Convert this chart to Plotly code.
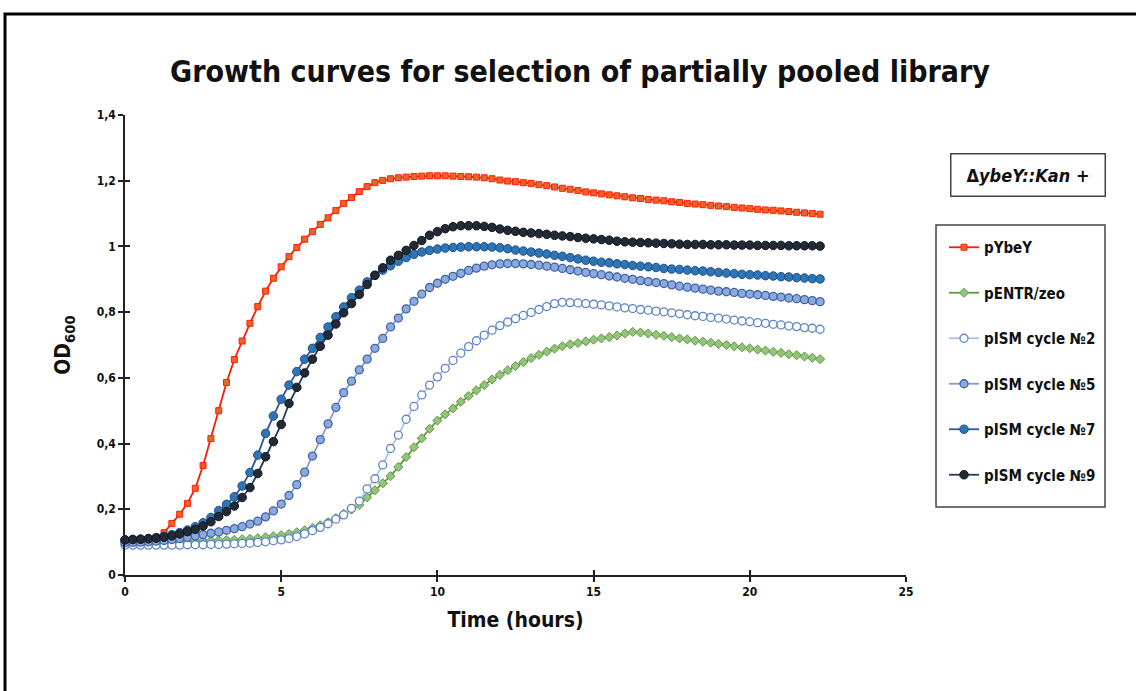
import plotly.graph_objects as go

# ---------------- data ----------------
time_hours = [
    0, 0.25, 0.5, 0.75, 1, 1.25, 1.5, 1.75, 2, 2.25,
    2.5, 2.75, 3, 3.25, 3.5, 3.75, 4, 4.25, 4.5, 4.75,
    5, 5.25, 5.5, 5.75, 6, 6.25, 6.5, 6.75, 7, 7.25,
    7.5, 7.75, 8, 8.25, 8.5, 8.75, 9, 9.25, 9.5, 9.75,
    10, 10.25, 10.5, 10.75, 11, 11.25, 11.5, 11.75, 12, 12.25,
    12.5, 12.75, 13, 13.25, 13.5, 13.75, 14, 14.25, 14.5, 14.75,
    15, 15.25, 15.5, 15.75, 16, 16.25, 16.5, 16.75, 17, 17.25,
    17.5, 17.75, 18, 18.25, 18.5, 18.75, 19, 19.25, 19.5, 19.75,
    20, 20.25, 20.5, 20.75, 21, 21.25, 21.5, 21.75, 22, 22.25,
]

pYbeY = [
    0.105, 0.106, 0.107, 0.109, 0.115, 0.129, 0.157, 0.185, 0.218, 0.264,
    0.333, 0.415, 0.500, 0.586, 0.656, 0.712, 0.766, 0.817, 0.864, 0.903,
    0.938, 0.969, 0.997, 1.022, 1.045, 1.067, 1.087, 1.109, 1.131, 1.149,
    1.167, 1.182, 1.194, 1.201, 1.206, 1.209, 1.211, 1.213, 1.214, 1.215,
    1.215, 1.215, 1.214, 1.213, 1.212, 1.211, 1.209, 1.206, 1.202, 1.199,
    1.197, 1.194, 1.192, 1.188, 1.185, 1.181, 1.177, 1.174, 1.170, 1.166,
    1.163, 1.160, 1.157, 1.154, 1.151, 1.148, 1.146, 1.143, 1.141, 1.139,
    1.136, 1.134, 1.131, 1.129, 1.127, 1.125, 1.123, 1.121, 1.119, 1.117,
    1.115, 1.113, 1.111, 1.110, 1.108, 1.106, 1.104, 1.102, 1.100, 1.098,
]

pENTR_zeo = [
    0.100, 0.100, 0.100, 0.101, 0.101, 0.101, 0.102, 0.102, 0.103, 0.103,
    0.104, 0.105, 0.106, 0.106, 0.107, 0.109, 0.110, 0.112, 0.115, 0.118,
    0.121, 0.125, 0.130, 0.136, 0.143, 0.151, 0.161, 0.173, 0.186, 0.199,
    0.213, 0.236, 0.258, 0.279, 0.301, 0.329, 0.359, 0.389, 0.416, 0.445,
    0.470, 0.489, 0.507, 0.527, 0.545, 0.562, 0.578, 0.595, 0.609, 0.623,
    0.636, 0.648, 0.660, 0.670, 0.680, 0.689, 0.696, 0.702, 0.706, 0.711,
    0.716, 0.720, 0.724, 0.729, 0.735, 0.740, 0.738, 0.735, 0.731, 0.728,
    0.724, 0.720, 0.717, 0.713, 0.710, 0.707, 0.703, 0.700, 0.696, 0.693,
    0.690, 0.686, 0.683, 0.679, 0.676, 0.672, 0.669, 0.665, 0.661, 0.657,
]

cycle2 = [
    0.091, 0.091, 0.091, 0.091, 0.091, 0.091, 0.091, 0.091, 0.092, 0.092,
    0.092, 0.093, 0.093, 0.094, 0.095, 0.096, 0.097, 0.099, 0.101, 0.104,
    0.107, 0.111, 0.117, 0.125, 0.135, 0.145, 0.156, 0.170, 0.183, 0.203,
    0.225, 0.262, 0.293, 0.335, 0.385, 0.426, 0.474, 0.513, 0.548, 0.578,
    0.603, 0.629, 0.653, 0.675, 0.695, 0.713, 0.730, 0.745, 0.759, 0.770,
    0.780, 0.790, 0.799, 0.808, 0.817, 0.826, 0.830, 0.829, 0.828, 0.826,
    0.824, 0.822, 0.819, 0.816, 0.813, 0.811, 0.808, 0.806, 0.803, 0.801,
    0.798, 0.795, 0.792, 0.789, 0.787, 0.784, 0.782, 0.779, 0.776, 0.773,
    0.771, 0.768, 0.766, 0.763, 0.761, 0.758, 0.756, 0.753, 0.751, 0.748,
]

cycle5 = [
    0.098, 0.099, 0.100, 0.101, 0.103, 0.105, 0.108, 0.111, 0.115, 0.119,
    0.123, 0.127, 0.131, 0.136, 0.141, 0.147, 0.155, 0.164, 0.177, 0.195,
    0.216, 0.242, 0.275, 0.313, 0.362, 0.412, 0.460, 0.510, 0.555, 0.590,
    0.624, 0.657, 0.690, 0.720, 0.755, 0.782, 0.810, 0.833, 0.855, 0.875,
    0.888, 0.900, 0.909, 0.918, 0.927, 0.934, 0.940, 0.944, 0.947, 0.948,
    0.948, 0.947, 0.945, 0.943, 0.940, 0.937, 0.933, 0.929, 0.925, 0.921,
    0.917, 0.914, 0.910, 0.907, 0.903, 0.900, 0.896, 0.893, 0.890, 0.887,
    0.883, 0.879, 0.876, 0.873, 0.870, 0.867, 0.864, 0.862, 0.860, 0.857,
    0.855, 0.853, 0.851, 0.848, 0.846, 0.843, 0.841, 0.838, 0.835, 0.832,
]

cycle7 = [
    0.107, 0.108, 0.109, 0.111, 0.114, 0.118, 0.123, 0.129, 0.137, 0.147,
    0.159, 0.175, 0.196, 0.215, 0.238, 0.271, 0.312, 0.365, 0.431, 0.484,
    0.535, 0.578, 0.619, 0.657, 0.690, 0.723, 0.755, 0.786, 0.816, 0.844,
    0.867, 0.892, 0.912, 0.928, 0.941, 0.955, 0.966, 0.976, 0.983, 0.988,
    0.992, 0.995, 0.997, 0.998, 0.999, 0.999, 0.999, 0.998, 0.996, 0.993,
    0.989, 0.986, 0.983, 0.980, 0.977, 0.973, 0.970, 0.966, 0.962, 0.958,
    0.955, 0.952, 0.950, 0.947, 0.945, 0.942, 0.940, 0.938, 0.936, 0.933,
    0.931, 0.930, 0.928, 0.926, 0.925, 0.923, 0.921, 0.919, 0.917, 0.915,
    0.914, 0.913, 0.911, 0.910, 0.908, 0.907, 0.905, 0.904, 0.902, 0.901,
]

cycle9 = [
    0.107, 0.108, 0.109, 0.110, 0.112, 0.115, 0.119, 0.125, 0.132, 0.139,
    0.149, 0.162, 0.178, 0.193, 0.210, 0.236, 0.266, 0.309, 0.360, 0.406,
    0.458, 0.522, 0.571, 0.615, 0.657, 0.696, 0.730, 0.764, 0.798, 0.826,
    0.854, 0.884, 0.912, 0.935, 0.958, 0.973, 0.988, 1.003, 1.018, 1.034,
    1.045, 1.054, 1.060, 1.063, 1.063, 1.063, 1.061, 1.058, 1.053, 1.049,
    1.046, 1.043, 1.041, 1.039, 1.037, 1.034, 1.032, 1.030, 1.027, 1.025,
    1.023, 1.021, 1.019, 1.016, 1.014, 1.013, 1.012, 1.011, 1.010, 1.009,
    1.008, 1.007, 1.006, 1.006, 1.006, 1.005, 1.005, 1.005, 1.004, 1.004,
    1.004, 1.003, 1.003, 1.003, 1.003, 1.002, 1.002, 1.002, 1.002, 1.001,
]

x_tick_vals = [0, 5, 10, 15, 20, 25]
x_tick_text = ["0", "5", "10", "15", "20", "25"]
y_tick_vals = [0, 0.2, 0.4, 0.6, 0.8, 1.0, 1.2, 1.4]
y_tick_text = ["0", "0,2", "0,4", "0,6", "0,8", "1", "1,2", "1,4"]

series_names = ["pYbeY", "pENTR/zeo", "pISM cycle №2", "pISM cycle №5",
                "pISM cycle №7", "pISM cycle №9"]
series_values = [pYbeY, pENTR_zeo, cycle2, cycle5, cycle7, cycle9]

# ---------------- styles ----------------
FONT = "DejaVu Sans Condensed, Liberation Sans Narrow, Roboto, sans-serif"
styles = [
    dict(line="#FF1A00", symbol="square", size=6, fill="#E8642A", edge="#FF2000", ew=1),
    dict(line="#5E9A3A", symbol="diamond", size=7, fill="#93C47D", edge="#5E9A3A", ew=1),
    dict(line="#A9C3EA", symbol="circle", size=8, fill="#FFFFFF", edge="#5B85C8", ew=1.3),
    dict(line="#7E9FD6", symbol="circle", size=8, fill="#8EAADC", edge="#3D64A8", ew=1.3),
    dict(line="#2F5597", symbol="circle", size=8.5, fill="#2E75B6", edge="#1F4E89", ew=1),
    dict(line="#1F3864", symbol="circle", size=8.5, fill="#222A35", edge="#111820", ew=1),
]

PL, PT, PW, PH = 125, 115, 781, 460   # plot area in pixels


def px_x(px):
    return (px - PL) / PW


def px_y(py):
    return (PT + PH - py) / PH


fig = go.Figure()
for i, (name, vals, st) in enumerate(zip(series_names, series_values, styles)):
    fig.add_trace(go.Scatter(
        x=time_hours, y=vals, name=name, mode="lines+markers",
        legendgroup=f"g{i}",
        line=dict(color=st["line"], width=1.8),
        marker=dict(symbol=st["symbol"], size=st["size"], color=st["fill"],
                    line=dict(color=st["edge"], width=st["ew"])),
        cliponaxis=False,
    ))

axis_font = dict(family=FONT, size=12, color="#111111", weight="bold")

fig.update_layout(
    width=1136, height=691,
    margin=dict(l=PL, r=1136 - PL - PW, t=PT, b=691 - PT - PH),
    paper_bgcolor="white", plot_bgcolor="white",
    font=dict(family=FONT, color="#111111"),
    title=dict(
        text="Growth curves for selection of partially pooled library",
        font=dict(family=FONT, size=30, color="#111111", weight="bold"),
        x=580 / 1136, xref="container", xanchor="center",
        y=1 - 71 / 691, yref="container", yanchor="middle",
    ),
    xaxis=dict(
        range=[0, 25], tickvals=x_tick_vals, ticktext=x_tick_text,
        showgrid=False, zeroline=False, showline=True, linecolor="#222222",
        linewidth=1.5, ticks="outside", ticklen=5, tickwidth=1.5,
        tickcolor="#222222", tickfont=axis_font,
        title=dict(text="Time (hours)", standoff=14,
                   font=dict(family=FONT, size=21, color="#111111", weight="bold")),
    ),
    yaxis=dict(
        range=[0, 1.4], tickvals=y_tick_vals, ticktext=y_tick_text,
        showgrid=False, zeroline=False, showline=True, linecolor="#222222",
        linewidth=1.5, ticks="outside", ticklen=5, tickwidth=1.5,
        tickcolor="#222222", tickfont=axis_font,
        title=dict(text="OD<sub>600</sub>", standoff=20,
                   font=dict(family=FONT, size=21, color="#111111", weight="bold")),
    ),
    xaxis2=dict(range=[0, 25], overlaying="x", tickvals=x_tick_vals,
                showticklabels=False, ticks="inside", ticklen=5, tickwidth=1.5,
                tickcolor="#222222", showgrid=False, zeroline=False, showline=False),
    yaxis2=dict(range=[0, 1.4], overlaying="y", tickvals=y_tick_vals,
                showticklabels=False, ticks="inside", ticklen=5, tickwidth=1.5,
                tickcolor="#222222", showgrid=False, zeroline=False, showline=False),
    legend=dict(
        x=px_x(944), y=px_y(231), xanchor="left", yanchor="top",
        borderwidth=0, bgcolor="rgba(0,0,0,0)",
        font=dict(family=FONT, size=15, color="#111111", weight="bold"),
        tracegroupgap=23, traceorder="grouped", itemwidth=30,
    ),
    showlegend=True,
)

# invisible trace to activate overlay axes (for crossing ticks)
fig.add_trace(go.Scatter(x=[0], y=[0], xaxis="x2", yaxis="y2", mode="markers",
                         marker=dict(opacity=0), showlegend=False, hoverinfo="skip"))

# legend frame
fig.add_shape(type="rect", xref="paper", yref="paper",
              x0=px_x(936), x1=px_x(1105), y0=px_y(507), y1=px_y(225),
              line=dict(color="#444444", width=1.5), fillcolor="rgba(0,0,0,0)",
              layer="below")

# strain label box
fig.add_annotation(
    xref="paper", yref="paper",
    x=px_x(1028), y=px_y(175), xanchor="center", yanchor="middle",
    text="<b>Δ<i>ybeY::Kan</i> +</b>", showarrow=False,
    font=dict(family=FONT, size=18, color="#111111"),
    bordercolor="#444444", borderwidth=1.5, borderpad=10, bgcolor="white",
    width=133,
)

# outer frame
fig.add_shape(type="rect", xref="paper", yref="paper",
              x0=px_x(5), x1=px_x(1150), y0=px_y(705), y1=px_y(14),
              line=dict(color="black", width=3), layer="above")

fig.write_html("out.html",
               config={"displayModeBar": False},
               post_script="document.body.style.margin='0';"
                           "document.body.style.padding='0';")
